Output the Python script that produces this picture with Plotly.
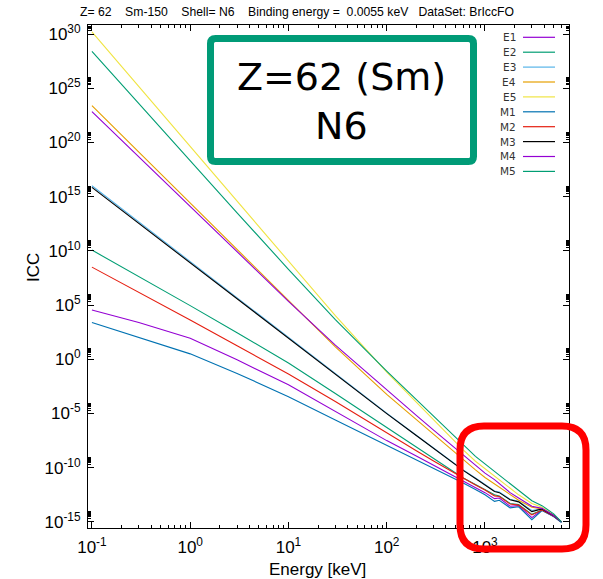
import plotly.graph_objects as go

# ---------------- data ----------------
energy_keV = [0.1, 0.3, 1, 3, 10, 30, 100, 200, 300, 600, 800, 1000,
              1250, 1400, 1800, 2200, 3000, 3800, 5000, 6000]

# log10(ICC)
E1 = [4.54, 3.4, 1.95, -0.05, -2.35, -4.78, -7.5, -8.93, -9.77, -11.2, -11.8, -12.3,
      -12.85, -12.8, -13.55, -13.5, -14.6, -13.9, -14.5, -15.0]
E2 = [10.07, 7.65, 4.95, 2.45, -0.35, -3.15, -6.31, -8.11, -9.16, -10.95, -11.55, -12.0,
      -12.5, -12.6, -13.3, -13.4, -14.3, -13.9, -14.45, -15.0]
E3 = [16.0, 12.66, 9.0, 5.66, 2.0, -1.33, -4.97, -7.0, -8.19, -10.2, -10.95, -11.55,
      -12.15, -12.25, -12.9, -13.1, -13.95, -13.8, -14.4, -15.0]
E4 = [23.4, 19.1, 14.4, 10.1, 5.4, 1.15, -3.24, -5.58, -6.95, -9.3, -10.2, -10.9,
      -11.5, -11.85, -12.5, -13.0, -13.65, -13.8, -14.4, -15.0]
E5 = [30.2, 25.16, 19.63, 14.59, 9.06, 4.02, -1.18, -3.95, -5.58, -8.35, -9.4, -10.1,
      -10.8, -11.15, -11.95, -12.5, -13.3, -13.65, -14.35, -15.0]
M1 = [3.4, 2.02, 0.5, -1.3, -3.45, -5.6, -7.91, -9.26, -10.05, -11.4, -12.0, -12.5,
      -13.1, -13.0, -13.7, -13.6, -14.8, -13.95, -14.5, -15.05]
M2 = [8.5, 6.2, 3.62, 1.24, -1.35, -3.9, -6.82, -8.44, -9.38, -11.0, -11.6, -12.05,
      -12.6, -12.65, -13.35, -13.45, -14.35, -13.9, -14.45, -15.0]
M3 = [15.85, 12.53, 8.89, 5.57, 1.93, -1.39, -5.01, -7.03, -8.22, -10.25, -11.0, -11.6,
      -12.2, -12.3, -12.95, -13.15, -14.05, -13.8, -14.4, -15.0]
M4 = [22.85, 18.68, 14.1, 9.93, 5.35, 1.3, -2.86, -5.18, -6.53, -8.85, -9.8, -10.5,
      -11.1, -11.45, -12.3, -12.8, -13.55, -13.75, -14.4, -15.0]
M5 = [28.4, 23.58, 18.3, 13.51, 8.3, 3.65, -1.1, -3.73, -5.26, -7.9, -8.95, -9.65,
      -10.35, -10.7, -11.5, -12.1, -13.05, -13.5, -14.25, -15.0]

series_names = ["E1", "E2", "E3", "E4", "E5", "M1", "M2", "M3", "M4", "M5"]
series_logs = [E1, E2, E3, E4, E5, M1, M2, M3, M4, M5]
series_colors = ["#9400D3", "#009E73", "#56B4E9", "#E69F00", "#F0E442",
                 "#0072B2", "#E51E10", "#000000", "#9400D3", "#009E73"]

y_exponents = list(range(-15, 31, 5))
x_exponents = list(range(-1, 4))

S4 = "\u00a0\u00a0\u00a0\u00a0"
title_text = ("Z=\u00a062" + S4 + "Sm-150" + S4 + "Shell=\u00a0N6" + S4 +
              "Binding energy =\u00a0\u00a00.0055 keV\u00a0\u00a0\u00a0DataSet: BrIccFO")

# ---------------- layout geometry ----------------
W, H = 603, 579
L, R, T, B = 88, 34, 25, 51
PW, PH = W - L - R, H - T - B


def px(x):
    return (x - L) / PW


def py(y):
    return (H - B - y) / PH


def rounded_path(x0, y0, x1, y1, r):
    rx, ry = r / PW, r / PH
    X0, X1, Y0, Y1 = px(x0), px(x1), py(y0), py(y1)
    return (f"M {X0+rx},{Y0} L {X1-rx},{Y0} Q {X1},{Y0} {X1},{Y0-ry} "
            f"L {X1},{Y1+ry} Q {X1},{Y1} {X1-rx},{Y1} "
            f"L {X0+rx},{Y1} Q {X0},{Y1} {X0},{Y1+ry} "
            f"L {X0},{Y0-ry} Q {X0},{Y0} {X0+rx},{Y0} Z")


fig = go.Figure()
for name, logs, col in zip(series_names, series_logs, series_colors):
    fig.add_trace(go.Scatter(
        x=energy_keV, y=[10.0 ** v for v in logs], mode="lines", name=name,
        line=dict(color=col, width=1.1), showlegend=False))

AX_FONT = dict(family="Liberation Sans, Arial, sans-serif", size=17, color="black")

fig.update_xaxes(
    type="log", range=[-1.04, 3.855],
    tickmode="array", tickvals=[10.0 ** e for e in x_exponents],
    ticktext=[f"10<sup>{e}</sup>" for e in x_exponents],
    ticks="inside", ticklen=6, tickcolor="black",
    minor=dict(tickmode="array",
               tickvals=[k * 10.0 ** e for e in x_exponents for k in range(2, 10)],
               ticks="inside", ticklen=3, tickcolor="black"),
    showline=True, linecolor="black", linewidth=1, mirror="ticks",
    showgrid=False, zeroline=False, tickfont=AX_FONT, ticklabelstandoff=4)

fig.update_yaxes(
    type="log", range=[-15.56, 30.83],
    tickmode="array", tickvals=[10.0 ** e for e in y_exponents],
    ticktext=[f"10<sup>{e}</sup>" for e in y_exponents],
    ticks="inside", ticklen=6, tickcolor="black",
    minor=dict(tickmode="array",
               tickvals=[k * 10.0 ** e for e in y_exponents for k in range(2, 10)],
               ticks="inside", ticklen=3, tickcolor="black"),
    showline=True, linecolor="black", linewidth=1, mirror="ticks",
    showgrid=False, zeroline=False, tickfont=AX_FONT, ticklabelstandoff=3)

annotations = [
    dict(text="Energy [keV]", xref="paper", yref="paper", x=px(317), y=py(569),
         xanchor="center", yanchor="middle", showarrow=False, font=AX_FONT),
    dict(text="ICC", xref="paper", yref="paper", x=px(33), y=py(268),
         xanchor="center", yanchor="middle", showarrow=False, font=AX_FONT,
         textangle=-90),
    dict(text="Z=62 (Sm)", xref="paper", yref="paper", x=px(341), y=py(77),
         xanchor="center", yanchor="middle", showarrow=False,
         font=dict(family="DejaVu Sans", size=38, color="black")),
    dict(text="N6", xref="paper", yref="paper", x=px(341), y=py(126),
         xanchor="center", yanchor="middle", showarrow=False,
         font=dict(family="DejaVu Sans", size=38, color="black")),
]

shapes = [
    dict(type="path", xref="paper", yref="paper", layer="above",
         path=rounded_path(210.5, 38.5, 473.5, 161.5, 5),
         line=dict(color="#009B77", width=7), fillcolor="white"),
    dict(type="path", xref="paper", yref="paper", layer="above",
         path=rounded_path(460, 426, 586, 549, 24),
         line=dict(color="#FF0000", width=7)),
]

# custom legend (label left, line sample right)
for i, (name, col) in enumerate(zip(series_names, series_colors)):
    yy = 37.3 + 14.9 * i
    annotations.append(dict(text=name, xref="paper", yref="paper", x=px(518), y=py(yy),
                            xanchor="right", yanchor="middle", showarrow=False,
                            font=dict(family="DejaVu Sans", size=10.5, color="#333333")))
    shapes.append(dict(type="line", xref="paper", yref="paper",
                       x0=px(523), x1=px(555), y0=py(yy), y1=py(yy),
                       line=dict(color=col, width=1.2)))

fig.update_layout(
    width=W, height=H,
    margin=dict(l=L, r=R, t=T, b=B),
    paper_bgcolor="white", plot_bgcolor="white",
    showlegend=False,
    title=dict(text=title_text, x=297 / W, y=1 - 12 / H, xref="container", yref="container",
               xanchor="center", yanchor="middle",
               font=dict(family="Liberation Sans, Arial, sans-serif", size=12.2, color="black")),
    annotations=annotations, shapes=shapes,
)

fig.write_html("out.html")
